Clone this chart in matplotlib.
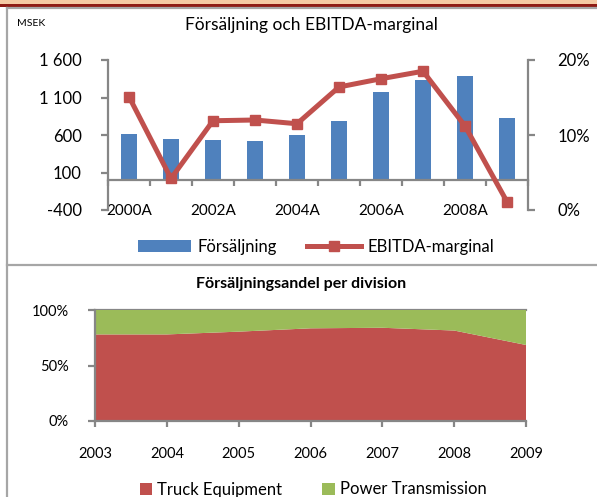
import matplotlib
matplotlib.use("Agg")
import matplotlib.pyplot as plt
import matplotlib.ticker as ticker
from matplotlib.patches import Rectangle
from matplotlib.lines import Line2D
import numpy as np

plt.rcParams['font.family'] = ['Lato', 'DejaVu Sans']

years = ['2000A', '2001A', '2002A', '2003A', '2004A', '2005A', '2006A', '2007A', '2008A', '2009A']
sales = [610, 548, 530, 526, 600, 782, 1167, 1335, 1383, 831]
margin = [15.1, 4.2, 11.9, 12.0, 11.5, 16.4, 17.5, 18.5, 11.2, 1.1]

div_years = [2003, 2004, 2005, 2006, 2007, 2008, 2009]
truck = [78, 78, 80.5, 83.5, 84, 81.5, 68.5]
power = [100 - v for v in truck]

blue = '#4F81BD'
red = '#C0504D'
green = '#9BBB59'
axgray = '#868686'

W, H = 597, 497
fig = plt.figure(figsize=(W / 100, H / 100), dpi=100)

def box(l, t, r, b):
    return [l / W, 1 - b / H, (r - l) / W, (b - t) / H]

# top band and panel frames
fig.add_artist(Rectangle((0, 1 - 4.5 / H), 1, 4.5 / H, transform=fig.transFigure, color='#F4C9A3', lw=0))
fig.add_artist(Rectangle((0, 1 - 6.5 / H), 1, 2.2 / H, transform=fig.transFigure, color='#8E1B14', lw=0))
for yy in [8.3, 264.5]:
    fig.add_artist(Line2D([7 / W, 1], [1 - yy / H, 1 - yy / H], transform=fig.transFigure, color='#A6A6A6', lw=1.6))
fig.add_artist(Line2D([7.3 / W, 7.3 / W], [0, 1 - 8.3 / H], transform=fig.transFigure, color='#A6A6A6', lw=1.6))

# top chart
ax = fig.add_axes(box(108, 60, 528, 210))
x = np.arange(len(years))
ax.bar(x, sales, width=0.4, color=blue, zorder=2, label='Försäljning')
ax.set_xlim(-0.5, len(years) - 0.5)
ax.set_ylim(-400, 1600)
ax.set_yticks(np.arange(-400, 1601, 500))
ax.yaxis.set_major_formatter(ticker.FuncFormatter(lambda v, p: '{:,.0f}'.format(v).replace(',', ' ')))
ax.spines['top'].set_visible(False)
ax.spines['right'].set_visible(False)
ax.spines['bottom'].set_position(('data', 0))
for s in ['left', 'bottom']:
    ax.spines[s].set_color(axgray)
    ax.spines[s].set_linewidth(1.6)
ax.set_xticks(x[::2])
ax.set_xticklabels(years[::2])
ax.set_xticks(np.arange(-0.5, len(years), 1), minor=True)
ax.tick_params(axis='x', which='major', length=0, pad=17.5, labelsize=11)
ax.tick_params(axis='x', which='minor', length=4, width=1.6, color=axgray)
ax.tick_params(axis='y', length=5, width=1.6, color=axgray, pad=14, labelsize=12)

ax2 = ax.twinx()
ax2.plot(x, margin, color=red, lw=3.6, marker='s', ms=7, zorder=3, label='EBITDA-marginal')
ax2.set_ylim(0, 20)
ax2.set_yticks([0, 10, 20])
ax2.yaxis.set_major_formatter(ticker.FuncFormatter(lambda v, p: '{:.0f}%'.format(v)))
for s in ['top', 'left', 'bottom']:
    ax2.spines[s].set_visible(False)
ax2.spines['right'].set_color(axgray)
ax2.spines['right'].set_linewidth(1.6)
ax2.tick_params(axis='y', length=5, width=1.6, color=axgray, pad=16, labelsize=12)

fig.text(311 / W, 1 - 25 / H, 'Försäljning och EBITDA-marginal', ha='center', va='center', fontsize=12.5)
fig.text(17 / W, 1 - 23 / H, 'MSEK', ha='left', va='center', fontsize=7.5)

h1, l1 = ax.get_legend_handles_labels()
h2, l2 = ax2.get_legend_handles_labels()
fig.legend(h1 + h2, l1 + l2, loc='center', bbox_to_anchor=(316 / W, 1 - 247 / H), ncol=2, frameon=False,
           fontsize=12, handlelength=3.2, handleheight=0.7, columnspacing=1.8, handletextpad=0.4)

# bottom chart
ax3 = fig.add_axes(box(95, 310, 526, 421))
ax3.stackplot(div_years, truck, power, colors=[red, green], labels=['Truck Equipment', 'Power Transmission'], zorder=2)
ax3.set_xlim(2003, 2009)
ax3.set_ylim(0, 100)
ax3.set_yticks([0, 50, 100])
ax3.yaxis.set_major_formatter(ticker.FuncFormatter(lambda v, p: '{:.0f}%'.format(v)))
ax3.set_xticks(div_years)
ax3.axhline(100, color=axgray, lw=1.6, clip_on=False, zorder=1)
ax3.spines['top'].set_visible(False)
ax3.spines['right'].set_visible(False)
for s in ['left', 'bottom']:
    ax3.spines[s].set_color(axgray)
    ax3.spines[s].set_linewidth(1.6)
ax3.tick_params(axis='x', length=4, width=1.6, color=axgray, pad=15, labelsize=10.5)
ax3.tick_params(axis='y', length=5, width=1.6, color=axgray, pad=14, labelsize=10.5)
fig.text(301 / W, 1 - 284 / H, 'Försäljningsandel per division', ha='center', va='center', fontsize=11.5, fontweight='bold')
fig.legend(*ax3.get_legend_handles_labels(), loc='center', bbox_to_anchor=(313 / W, 1 - 489.5 / H), ncol=2, frameon=False,
           fontsize=12, handlelength=0.75, handleheight=0.75, columnspacing=2.4, handletextpad=0.3)

fig.savefig('out.png', dpi=100)
